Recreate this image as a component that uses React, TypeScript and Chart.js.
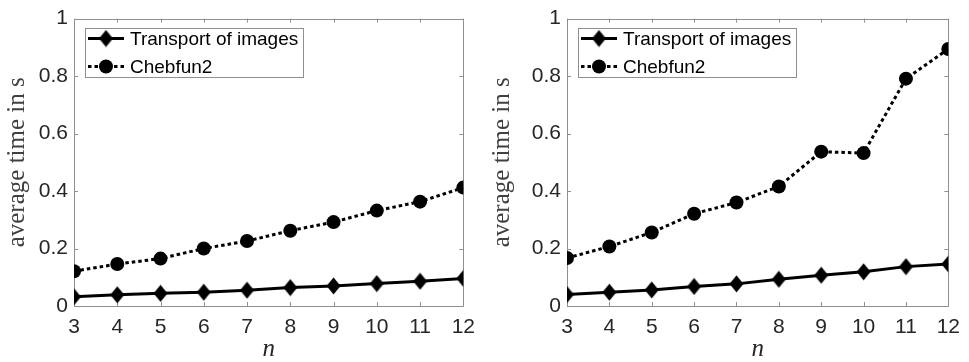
import React, { useEffect, useRef } from 'react';
import { Chart, registerables } from 'chart.js';

Chart.register(...registerables);

// ---- data ----
const nValues = [3, 4, 5, 6, 7, 8, 9, 10, 11, 12];
const transportLeft = [0.032, 0.039, 0.044, 0.048, 0.055, 0.064, 0.070, 0.078, 0.086, 0.096];
const chebfunLeft = [0.121, 0.146, 0.165, 0.200, 0.226, 0.262, 0.292, 0.332, 0.363, 0.412];
const transportRight = [0.040, 0.048, 0.056, 0.068, 0.077, 0.093, 0.107, 0.119, 0.137, 0.146];
const chebfunRight = [0.167, 0.207, 0.256, 0.321, 0.360, 0.416, 0.537, 0.532, 0.791, 0.894];
const yTickValues = [0, 0.2, 0.4, 0.6, 0.8, 1];
const seriesNames = ['Transport of images', 'Chebfun2'];
const yAxisTitle = 'average time in s';
const xAxisTitle = 'n';

const AXIS_COLOR = '#8f8f8f';
const TEXT_COLOR = '#262626';

function makeDiamond(): HTMLCanvasElement {
  const c = document.createElement('canvas');
  c.width = 15;
  c.height = 18;
  const g = c.getContext('2d')!;
  g.fillStyle = '#000';
  g.beginPath();
  g.moveTo(7.5, 0.5);
  g.lineTo(14.5, 9);
  g.lineTo(7.5, 17.5);
  g.lineTo(0.5, 9);
  g.closePath();
  g.fill();
  return c;
}

const boxPlugin = {
  id: 'boxTicks',
  beforeDatasetsDraw(chart: any) {
    const { ctx, chartArea } = chart;
    const { left, right, top, bottom } = chartArea;
    const xs = chart.scales.x;
    const ys = chart.scales.y;
    ctx.save();
    ctx.strokeStyle = AXIS_COLOR;
    ctx.lineWidth = 1;
    ctx.beginPath();
    ctx.rect(Math.round(left) + 0.5, Math.round(top) + 0.5, Math.round(right - left), Math.round(bottom - top));
    const tl = 4;
    nValues.forEach((v) => {
      const px = Math.round(xs.getPixelForValue(v)) + 0.5;
      ctx.moveTo(px, bottom);
      ctx.lineTo(px, bottom - tl);
      ctx.moveTo(px, top);
      ctx.lineTo(px, top + tl);
    });
    yTickValues.forEach((v) => {
      const py = Math.round(ys.getPixelForValue(v)) + 0.5;
      ctx.moveTo(left, py);
      ctx.lineTo(left + tl, py);
      ctx.moveTo(right, py);
      ctx.lineTo(right - tl, py);
    });
    ctx.stroke();
    ctx.restore();
  },
};

const legendPlugin = {
  id: 'matLegend',
  afterDatasetsDraw(chart: any) {
    const { ctx, chartArea } = chart;
    const bx = Math.round(chartArea.left) + 11;
    const by = Math.round(chartArea.top) + 9;
    const bw = 218;
    const bh = 49;
    ctx.save();
    ctx.fillStyle = '#ffffff';
    ctx.fillRect(bx, by, bw, bh);
    ctx.strokeStyle = AXIS_COLOR;
    ctx.lineWidth = 1;
    ctx.strokeRect(bx + 0.5, by + 0.5, bw, bh);
    chart.data.datasets.forEach((ds: any, i: number) => {
      const cy = by + 10.5 + i * 28;
      ctx.strokeStyle = '#000';
      ctx.lineWidth = 3;
      ctx.setLineDash(ds.borderDash || []);
      ctx.beginPath();
      ctx.moveTo(bx + 3, cy);
      ctx.lineTo(bx + 39, cy);
      ctx.stroke();
      ctx.setLineDash([]);
      const mx = bx + 21;
      if (ds.pointStyle === 'circle') {
        ctx.fillStyle = '#000';
        ctx.beginPath();
        ctx.arc(mx, cy, ds.pointRadius, 0, Math.PI * 2);
        ctx.fill();
      } else {
        const img = ds.pointStyle as HTMLCanvasElement;
        ctx.drawImage(img, mx - img.width / 2, cy - img.height / 2);
      }
      ctx.fillStyle = '#000';
      ctx.font = '19px "Liberation Sans", Arial, sans-serif';
      ctx.textBaseline = 'middle';
      ctx.textAlign = 'left';
      ctx.fillText(seriesNames[i], bx + 45, cy + 1);
    });
    ctx.restore();
  },
};

function PlotPanel({ transport, chebfun, padLeft, padRight }: { transport: number[]; chebfun: number[]; padLeft: number; padRight: number }) {
  const ref = useRef<HTMLCanvasElement>(null);
  useEffect(() => {
    const diamond = makeDiamond();
    const chart = new Chart(ref.current!, {
      type: 'line',
      data: {
        datasets: [
          {
            label: seriesNames[0],
            data: nValues.map((n, i) => ({ x: n, y: transport[i] })),
            borderColor: '#000',
            backgroundColor: '#000',
            borderWidth: 3,
            pointStyle: diamond as any,
            pointRadius: 7,
            tension: 0,
          },
          {
            label: seriesNames[1],
            data: nValues.map((n, i) => ({ x: n, y: chebfun[i] })),
            borderColor: '#000',
            backgroundColor: '#000',
            borderWidth: 3,
            borderDash: [3.5, 3],
            pointStyle: 'circle',
            pointRadius: 7,
            pointBorderWidth: 0,
            tension: 0,
          },
        ],
      },
      options: {
        responsive: false,
        animation: false,
        events: [],
        layout: { padding: { top: 16, right: padRight, left: 0, bottom: 0 } },
        plugins: { legend: { display: false }, tooltip: { enabled: false } },
        scales: {
          x: {
            type: 'linear',
            min: 3,
            max: 12,
            afterFit: (s: any) => {
              s.height = 56;
            },
            afterBuildTicks: (s: any) => {
              s.ticks = nValues.map((v) => ({ value: v }));
            },
            grid: { display: false, drawTicks: false },
            border: { display: false },
            ticks: {
              padding: 9,
              color: TEXT_COLOR,
              font: { family: '"Liberation Sans", Arial, sans-serif', size: 21 },
              callback: (v: any) => String(v),
            },
            title: {
              display: true,
              text: xAxisTitle,
              color: TEXT_COLOR,
              padding: { top: 0, bottom: 0 },
              font: { family: '"Liberation Serif", "DejaVu Serif", serif', size: 25, style: 'italic', lineHeight: 1 },
            },
          },
          y: {
            type: 'linear',
            min: 0,
            max: 1,
            afterFit: (s: any) => {
              s.width = padLeft;
            },
            afterBuildTicks: (s: any) => {
              s.ticks = yTickValues.map((v) => ({ value: v }));
            },
            grid: { display: false, drawTicks: false },
            border: { display: false },
            ticks: {
              padding: 6,
              color: TEXT_COLOR,
              font: { family: '"Liberation Sans", Arial, sans-serif', size: 21 },
              callback: (v: any) => String(Math.round(v * 10) / 10),
            },
            title: {
              display: true,
              text: yAxisTitle,
              color: '#404040',
              padding: { top: 5, bottom: 0 },
              font: { family: '"Liberation Serif", "DejaVu Serif", serif', size: 25, lineHeight: 1 },
            },
          },
        },
      },
      plugins: [boxPlugin, legendPlugin],
    });
    return () => chart.destroy();
  }, [transport, chebfun, padLeft, padRight]);
  return <canvas ref={ref} width={484} height={362} style={{ display: 'block' }} />;
}

export default function App() {
  return (
    <div style={{ position: 'absolute', left: 0, top: 0, width: 969, height: 362, background: '#fff', display: 'flex' }}>
      <PlotPanel transport={transportLeft} chebfun={chebfunLeft} padLeft={74} padRight={20} />
      <div style={{ width: 1 }} />
      <PlotPanel transport={transportRight} chebfun={chebfunRight} padLeft={82} padRight={13} />
    </div>
  );
}
